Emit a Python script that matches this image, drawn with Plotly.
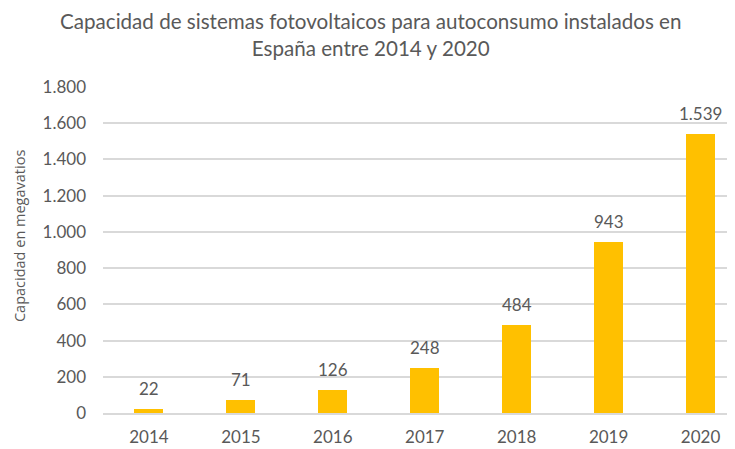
import plotly.graph_objects as go

years = ["2014", "2015", "2016", "2017", "2018", "2019", "2020"]
capacity = [22, 71, 126, 248, 484, 943, 1539]
tick_vals = [0, 200, 400, 600, 800, 1000, 1200, 1400, 1600, 1800]
tick_text = ["0", "200", "400", "600", "800", "1.000", "1.200", "1.400", "1.600", "1.800"]
labels = [f"{v:,}".replace(",", ".") for v in capacity]

FONT = "Lato, Carlito, Calibri, sans-serif"
GRAY = "#595959"

fig = go.Figure(go.Bar(
    x=years, y=capacity, width=0.315,
    marker=dict(color="#FFC000", line=dict(width=0)),
    hoverinfo="x+y",
))

for i, (v, lab) in enumerate(zip(capacity, labels)):
    fig.add_annotation(
        x=i, y=v, text=lab, showarrow=False,
        xanchor="center", yanchor="bottom", yshift=8,
        font=dict(family=FONT, size=17, color=GRAY),
    )

fig.add_annotation(
    xref="paper", yref="paper", x=-0.132, y=0.5415,
    text="Capacidad en megavatios", textangle=-90, showarrow=False,
    xanchor="center", yanchor="middle",
    font=dict(family="Open Sans, sans-serif", size=14.5, color=GRAY),
)

fig.update_layout(
    width=727, height=441,
    margin=dict(l=94.5, r=0, t=79.3, b=36.3),
    paper_bgcolor="white", plot_bgcolor="white",
    showlegend=False,
    title=dict(
        text="Capacidad de sistemas fotovoltaicos para autoconsumo instalados en<br>España entre 2014 y 2020",
        x=0.499, xanchor="center", y=0.952, yanchor="top",
        font=dict(family=FONT, size=20.6, color=GRAY),
    ),
    xaxis=dict(
        type="category", range=[-0.5, 6.375],
        showgrid=False, showline=True, linecolor="#d9d9d9", linewidth=1.5,
        ticks="", tickfont=dict(family=FONT, size=17, color=GRAY),
        ticklabelstandoff=8,
    ),
    yaxis=dict(
        range=[0, 1800], tickvals=tick_vals, ticktext=tick_text,
        showgrid=True, gridcolor="#d9d9d9", gridwidth=1.5,
        zeroline=False, ticks="",
        tickfont=dict(family=FONT, size=17, color=GRAY),
        ticklabelstandoff=16,
    ),
    bargap=0,
)

fig.write_html("out.html")
